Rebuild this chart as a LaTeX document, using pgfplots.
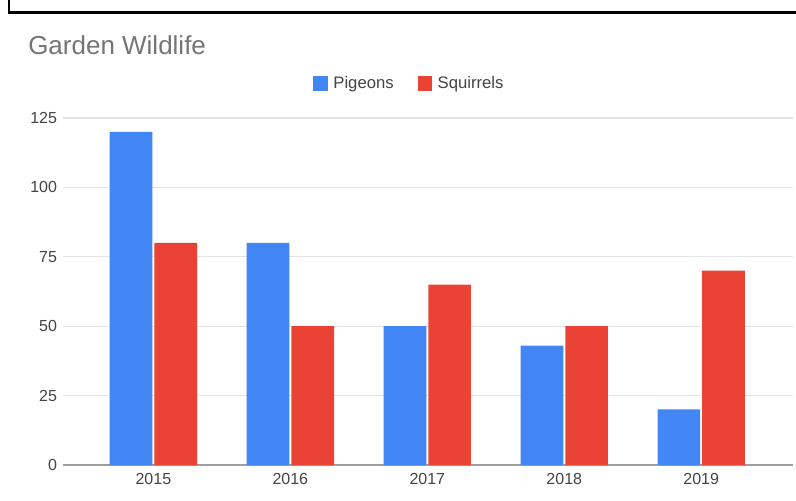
\documentclass[border=0pt]{standalone}
\usepackage{fontspec}
\setmainfont{Liberation Sans}
\usepackage{pgfplots}
\pgfplotsset{compat=1.18}
\definecolor{gblue}{HTML}{4285F4}
\definecolor{gred}{HTML}{EA4335}
\definecolor{tickgray}{HTML}{444444}
\definecolor{titlegray}{HTML}{757575}
\definecolor{gridgray}{HTML}{E3E3E3}
\definecolor{axisgray}{HTML}{9E9E9E}
\begin{document}
\begin{tikzpicture}
\useasboundingbox (0pt,0pt) rectangle (597pt,375pt);
\fill[white] (0pt,0pt) rectangle (597pt,375pt);
% frame lines
\draw[black, line width=2.2pt] (6.75pt,375pt) -- (6.75pt,365.6pt) -- (597pt,365.6pt);
% title
\node[anchor=base west, inner sep=0pt, text=titlegray, font=\fontsize{19.5}{22}\selectfont] at (21pt,333.75pt) {Garden Wildlife};
\begin{axis}[
  at={(47.25pt,26.25pt)}, anchor=south west,
  scale only axis,
  width=547.5pt, height=260.25pt,
  ybar=1.5pt, bar width=32pt,
  xmin=-0.66, xmax=4.67,
  ymin=0, ymax=125,
  ytick={0,25,50,75,100,125},
  xtick=data,
  xticklabels={2015,2016,2017,2018,2019},
  axis x line*=bottom,
  axis y line*=left,
  y axis line style={draw=none},
  x axis line style={axisgray, line width=1.2pt, -},
  ymajorgrids,
  grid style={gridgray, line width=0.8pt},
  major tick length=0pt,
  tick label style={text=tickgray, font=\fontsize{12}{13}\selectfont},
  yticklabel style={xshift=-1pt},
  xticklabel style={yshift=-3pt},
  /pgf/number format/assume math mode=true,
  legend columns=2,
  legend style={at={(0.475,1.10)}, anchor=center, draw=none, fill=none,
    font=\fontsize{12.5}{14}\selectfont, text=tickgray,
    /tikz/every odd column/.append style={column sep=2pt},
    /tikz/every even column/.append style={column sep=16pt}},
  legend image code/.code={\fill[#1] (0pt,-5.5pt) rectangle (11pt,5.5pt);},
]
\addplot[fill=gblue, draw=none] coordinates {(0,120) (1,80) (2,50) (3,43) (4,20)};
\addplot[fill=gred, draw=none] coordinates {(0,80) (1,50) (2,65) (3,50) (4,70)};
\legend{Pigeons, Squirrels}
\end{axis}
\end{tikzpicture}
\end{document}
